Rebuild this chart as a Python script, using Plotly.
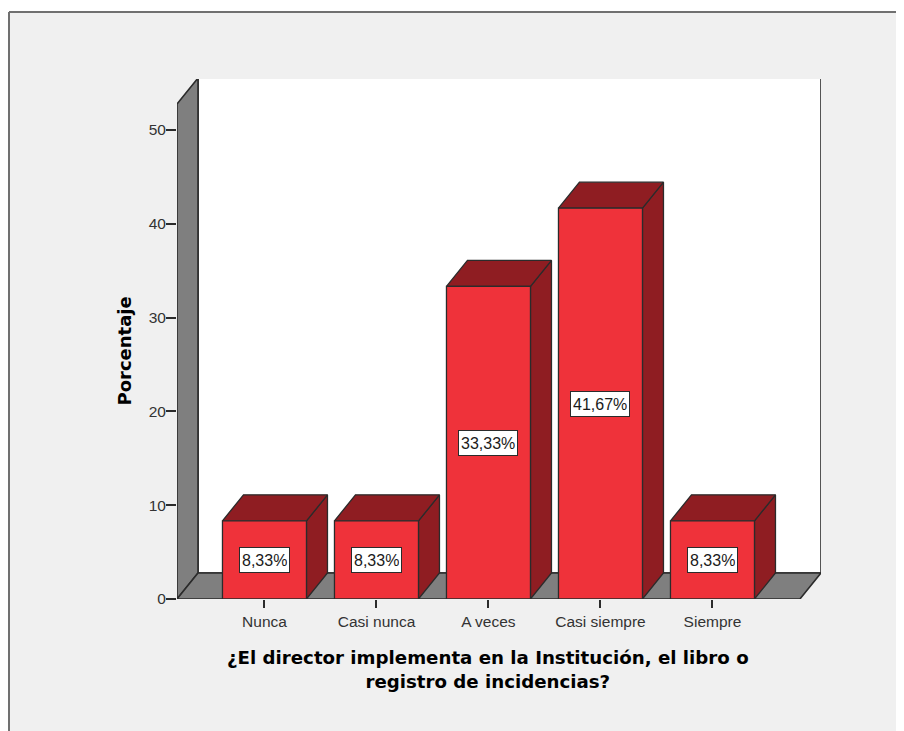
import plotly.graph_objects as go

# ---- data ----
categories = ["Nunca", "Casi nunca", "A veces", "Casi siempre", "Siempre"]
percent = [8.33, 8.33, 33.33, 41.67, 8.33]
y_ticks = [0, 10, 20, 30, 40, 50]
y_title = "Porcentaje"
x_title = "¿El director implementa en la Institución, el libro o<br>registro de incidencias?"

# ---- style / geometry (page has an 8px body margin) ----
W, H = 896, 723
ML, MR, MT, MB = 169, 83, 71, 132
X_RANGE = [-0.781, 4.969]
Y_RANGE = [0, 55.44]
WALL_TOP = 52.77          # front height of the side wall (data units)
DEPTH_PX_X, DEPTH_PX_Y = 21, 26
BAR_HALF = 0.375
FRAME_X, FRAME_Y = 1, 4   # frame position in figure pixels

FRONT = "#EF323A"
DARK = "#8F1D22"
WALL = "#7F7F7F"
EDGE = "#2b2b2b"
BG = "#F0F0F0"

pw = W - ML - MR
ph = H - MT - MB
dx = DEPTH_PX_X * (X_RANGE[1] - X_RANGE[0]) / pw
dy = DEPTH_PX_Y * (Y_RANGE[1] - Y_RANGE[0]) / ph

fig = go.Figure()


def poly(xs, ys, color, width=1.3):
    fig.add_trace(go.Scatter(
        x=xs + [xs[0]], y=ys + [ys[0]], mode="lines", fill="toself",
        fillcolor=color, line=dict(color=EDGE, width=width),
        hoverinfo="skip", showlegend=False))


x0 = X_RANGE[0]
x1 = len(categories) - 1 + (-X_RANGE[0])   # front floor right end
# back wall
poly([x0 + dx, X_RANGE[1], X_RANGE[1], x0 + dx],
     [dy, dy, WALL_TOP + dy, WALL_TOP + dy], "white", 1.6)
# left side wall
poly([x0, x0, x0 + dx, x0 + dx], [0, WALL_TOP, WALL_TOP + dy, dy], WALL, 1.6)
# floor
poly([x0, x1, x1 + dx, x0 + dx], [0, 0, dy, dy], WALL, 1.6)

# bars
for i, v in enumerate(percent):
    a, b = i - BAR_HALF, i + BAR_HALF
    poly([b, b, b + dx, b + dx], [0, v, v + dy, dy], DARK)
    poly([a, a + dx, b + dx, b], [v, v + dy, v + dy, v], DARK)
    poly([a, b, b, a], [0, 0, v, v], FRONT)

annotations = []
for i, v in enumerate(percent):
    annotations.append(dict(
        x=i, y=v / 2, xref="x", yref="y", showarrow=False,
        text=f"{v:.2f}%".replace(".", ","),
        font=dict(family="Liberation Sans", size=16, color="#1a1a1a"),
        height=20, valign="middle",
        bgcolor="white", bordercolor=EDGE, borderwidth=1, borderpad=2))

annotations.append(dict(
    x=(len(categories) - 1) / 2, xref="x", y=0, yref="paper",
    yanchor="top", yshift=-46, showarrow=False,
    text="<b>" + x_title.replace("<br>", "</b><br><b>") + "</b>",
    font=dict(family="DejaVu Sans", size=18.2, color="black"),
    ))
annotations.append(dict(
    x=0, xref="paper", xanchor="center", xshift=-52, y=WALL_TOP / 2, yref="y",
    showarrow=False, text="<b>" + y_title + "</b>", textangle=-90,
    font=dict(family="DejaVu Sans", size=18, color="black")))


def px_x(p):
    return (p - ML) / pw


def px_y(q):
    return (MT + ph - q) / ph


shapes = [
    dict(type="rect", xref="paper", yref="paper", layer="below",
         x0=px_x(FRAME_X), x1=px_x(W), y0=px_y(FRAME_Y), y1=px_y(H),
         fillcolor=BG, line=dict(width=0)),
    dict(type="line", xref="paper", yref="paper",
         x0=px_x(FRAME_X), x1=px_x(W), y0=px_y(FRAME_Y), y1=px_y(FRAME_Y),
         line=dict(color="#707070", width=2)),
    dict(type="line", xref="paper", yref="paper",
         x0=px_x(FRAME_X), x1=px_x(FRAME_X), y0=px_y(FRAME_Y), y1=px_y(H),
         line=dict(color="#707070", width=2)),
]

fig.update_layout(
    width=W, height=H,
    margin=dict(l=ML, r=MR, t=MT, b=MB),
    paper_bgcolor="white", plot_bgcolor=BG,
    annotations=annotations, shapes=shapes,
    showlegend=False,
    xaxis=dict(range=X_RANGE, tickvals=list(range(len(categories))),
               ticktext=categories, ticks="outside", ticklen=8, tickwidth=1.5,
               tickcolor=EDGE, showgrid=False, zeroline=False, showline=False,
               tickfont=dict(family="Liberation Sans", size=15.5, color="#333")),
    yaxis=dict(range=Y_RANGE, tickvals=y_ticks, ticks="outside", ticklen=10,
               tickwidth=1.5, tickcolor=EDGE, showgrid=False, zeroline=False,
               showline=False, ticklabelstandoff=-3,
               tickfont=dict(family="Liberation Sans", size=15.5, color="#333")),
)

fig.write_html("out.html")
